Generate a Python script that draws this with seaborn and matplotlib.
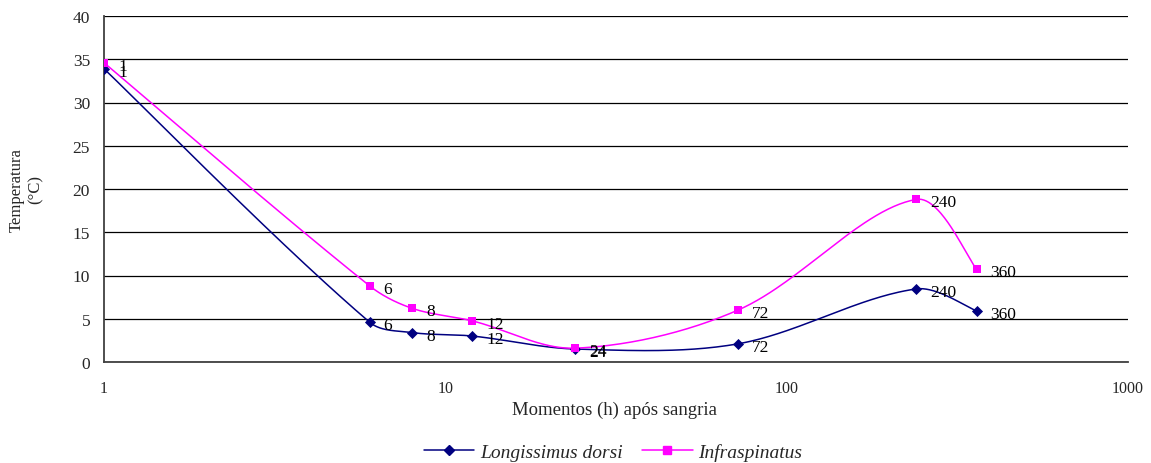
import numpy as np
import pandas as pd
import matplotlib
matplotlib.use("Agg")
import matplotlib.pyplot as plt
import seaborn as sns
from matplotlib.lines import Line2D
from matplotlib.ticker import FixedLocator, FixedFormatter, NullLocator

# ---- data ----
hours = [1, 6, 8, 12, 24, 72, 240, 360]
longissimus = [33.9, 4.6, 3.4, 3.0, 1.5, 2.1, 8.45, 5.9]
infraspinatus = [34.6, 8.8, 6.2, 4.75, 1.6, 6.0, 18.8, 10.75]
point_labels = ["1", "6", "8", "12", "24", "72", "240", "360"]
series_names = ["Longissimus dorsi", "Infraspinatus"]
colors = ["#000080", "#FF00FF"]
markers = ["D", "s"]

sns.set_theme(style="white")
plt.rcParams["font.family"] = ["Liberation Serif", "DejaVu Serif"]

fig = plt.figure(figsize=(11.51, 4.64), dpi=100)
ax = fig.add_axes([104 / 1151, 1 - 363 / 464, 1024 / 1151, 346 / 464])

# pixel scale (for Excel-like smoothing in display space)
PX_DEC = 1024 / 3.0
PX_Y = 346 / 40.0


def smooth_curve(xs, ys, n=60):
    u = np.log10(np.asarray(xs, float)) * PX_DEC
    v = np.asarray(ys, float) * PX_Y
    P = np.column_stack([u, v])
    m = len(P)
    c_out = np.zeros_like(P)
    c_in = np.zeros_like(P)
    for i in range(m):
        if i == 0:
            c_out[i] = P[0] + (P[1] - P[0]) / 6.0
            continue
        if i == m - 1:
            c_in[i] = P[i] - (P[i] - P[i - 1]) / 6.0
            continue
        d = P[i + 1] - P[i - 1]
        L1 = np.linalg.norm(P[i] - P[i - 1])
        L2 = np.linalg.norm(P[i + 1] - P[i])
        c_out[i] = P[i] + d * L2 / (L1 + L2) / 3.0
        c_in[i] = P[i] - d * L1 / (L1 + L2) / 3.0
    out = []
    t = np.linspace(0, 1, n)[:, None]
    for i in range(m - 1):
        p1, c1, c2, p2 = P[i], c_out[i], c_in[i + 1], P[i + 1]
        seg = ((1 - t) ** 3) * p1 + 3 * ((1 - t) ** 2) * t * c1 + 3 * (1 - t) * t ** 2 * c2 + t ** 3 * p2
        out.append(seg if i == 0 else seg[1:])
    C = np.vstack(out)
    return 10 ** (C[:, 0] / PX_DEC), C[:, 1] / PX_Y


# gridlines
for yv in range(0, 45, 5):
    ax.axhline(yv, color="#000000", lw=0.9, zorder=0)

for name, vals, col, mk in zip(series_names, [longissimus, infraspinatus], colors, markers):
    sx, sy = smooth_curve(hours, vals)
    df_line = pd.DataFrame({"x": sx, "y": sy})
    sns.lineplot(data=df_line, x="x", y="y", sort=False, estimator=None, color=col, lw=1.1,
                 ax=ax, zorder=3)
    df_pts = pd.DataFrame({"x": hours, "y": vals})
    sns.scatterplot(data=df_pts, x="x", y="y", marker=mk, color=col, s=40 if mk == "s" else 32,
                    edgecolor=col, linewidth=0, ax=ax, zorder=4)
    for xv, yv, lab in zip(hours, vals, point_labels):
        ax.annotate(lab, (xv, yv), xytext=(14, -3), textcoords="offset pixels",
                    ha="left", va="center", fontsize=12.5, color="#000000", zorder=5)

ax.set_xscale("log")
ax.set_xlim(1, 1000)
ax.set_ylim(0, 40)
ax.xaxis.set_major_locator(FixedLocator([1, 10, 100, 1000]))
ax.xaxis.set_major_formatter(FixedFormatter(["1", "10", "100", "1000"]))
ax.xaxis.set_minor_locator(NullLocator())
ax.set_yticks(range(0, 45, 5))
ax.tick_params(axis="both", which="major", direction="out", length=6, width=1,
               color="#404040", labelsize=12.5, pad=4)
ax.tick_params(axis="x", labelsize=11.5, pad=7)

for s in ["top", "right"]:
    ax.spines[s].set_visible(False)
for s in ["left", "bottom"]:
    ax.spines[s].set_color("#404040")
    ax.spines[s].set_linewidth(1.3)

ax.set_xlabel("")
ax.set_ylabel("")
fig.text(615 / 1151, 1 - 410 / 464, "Momentos (h) após sangria", ha="center", va="center",
         fontsize=13.5)
fig.text(26 / 1151, 1 - 190 / 464, "Temperatura\n(°C)", rotation=90, ha="center", va="center",
         fontsize=12, linespacing=1.25)

handles = [Line2D([0], [0], color=c, marker=m, markersize=6 if m == "s" else 5, lw=1.1)
           for c, m in zip(colors, markers)]
fig.legend(handles, series_names, loc="center", bbox_to_anchor=(613 / 1151, 1 - 453 / 464),
           ncol=2, frameon=False, prop={"style": "italic", "size": 14}, handlelength=2.6,
           handletextpad=0.3, columnspacing=1.0)

fig.savefig("out.png", dpi=100)
